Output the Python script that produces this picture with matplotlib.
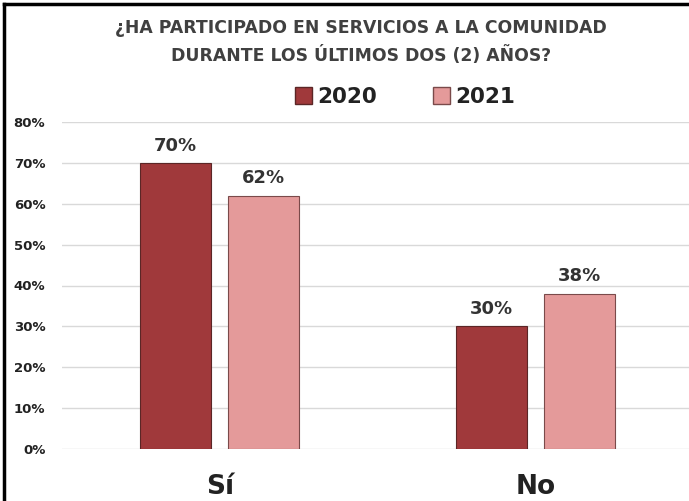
import matplotlib
matplotlib.use("Agg")
import matplotlib.pyplot as plt
from matplotlib.lines import Line2D
from matplotlib.patches import Patch
import numpy as np

categories = ["Sí", "No"]
series_names = ["2020", "2021"]
values_2020 = [70, 30]
values_2021 = [62, 38]
yticks = [0, 10, 20, 30, 40, 50, 60, 70, 80]
ytick_labels = ["0%", "10%", "20%", "30%", "40%", "50%", "60%", "70%", "80%"]
title = "¿HA PARTICIPADO EN SERVICIOS A LA COMUNIDAD\nDURANTE LOS ÚLTIMOS DOS (2) AÑOS?"

plt.rcParams['font.family'] = ['DejaVu Sans']

W, H = 689, 501
fig = plt.figure(figsize=(W / 100, H / 100), dpi=100)
fig.patch.set_facecolor("white")

ax = fig.add_axes([62 / W, 1 - 449 / H, (693 - 62) / W, (449 - 122) / H])
ax.set_xlim(-0.5, 1.5)
ax.set_ylim(0, 80)

x = np.arange(len(categories))
bw = 0.225
off = 0.14
c2020 = "#A0393B"
c2021 = "#E49A9A"
b1 = ax.bar(x - off, values_2020, bw, color=c2020, edgecolor="#5B2626", linewidth=0.8, zorder=3)
b2 = ax.bar(x + off, values_2021, bw, color=c2021, edgecolor="#7A4A4A", linewidth=0.8, zorder=3)

for bars in (b1, b2):
    for r in bars:
        ax.annotate(f"{int(r.get_height())}%", (r.get_x() + r.get_width() / 2, r.get_height()),
                    xytext=(0, 6), textcoords="offset points", ha="center", va="bottom",
                    fontsize=13, fontweight="bold", color="#333333")

ax.set_yticks(yticks)
ax.set_yticklabels(ytick_labels, fontsize=9.5, fontweight="bold", color="#222222")
ax.set_xticks(x)
ax.set_xticklabels(categories, fontsize=19, fontweight="bold", color="#222222")
ax.tick_params(axis="y", length=0, pad=12)
ax.tick_params(axis="x", length=0, pad=18)
ax.grid(axis="y", color="#D9D9D9", linewidth=1, zorder=0)
for s in ax.spines.values():
    s.set_visible(False)

fig.text(361 / W, 1 - 42 / H, title, ha="center", va="center", fontsize=12.4,
         fontweight="bold", color="#404040", linespacing=1.6)

handles = [Patch(facecolor=c2020, edgecolor="#5B2626"), Patch(facecolor=c2021, edgecolor="#7A4A4A")]
fig.legend(handles, series_names, loc="center", bbox_to_anchor=(405 / W, 1 - 97 / H),
           ncol=2, frameon=False, prop={"weight": "bold", "size": 15.5},
           handlelength=0.8, handleheight=0.8, handletextpad=0.25, columnspacing=2.6,
           labelcolor="#222222")

# outer frame (left and top edges visible)
fig.add_artist(Line2D([3.5 / W, 3.5 / W], [0, 1 - 4 / H], color="black", linewidth=2.5))
fig.add_artist(Line2D([3.5 / W, 1], [1 - 4 / H, 1 - 4 / H], color="black", linewidth=2.5))

fig.savefig("out.png", dpi=100)
